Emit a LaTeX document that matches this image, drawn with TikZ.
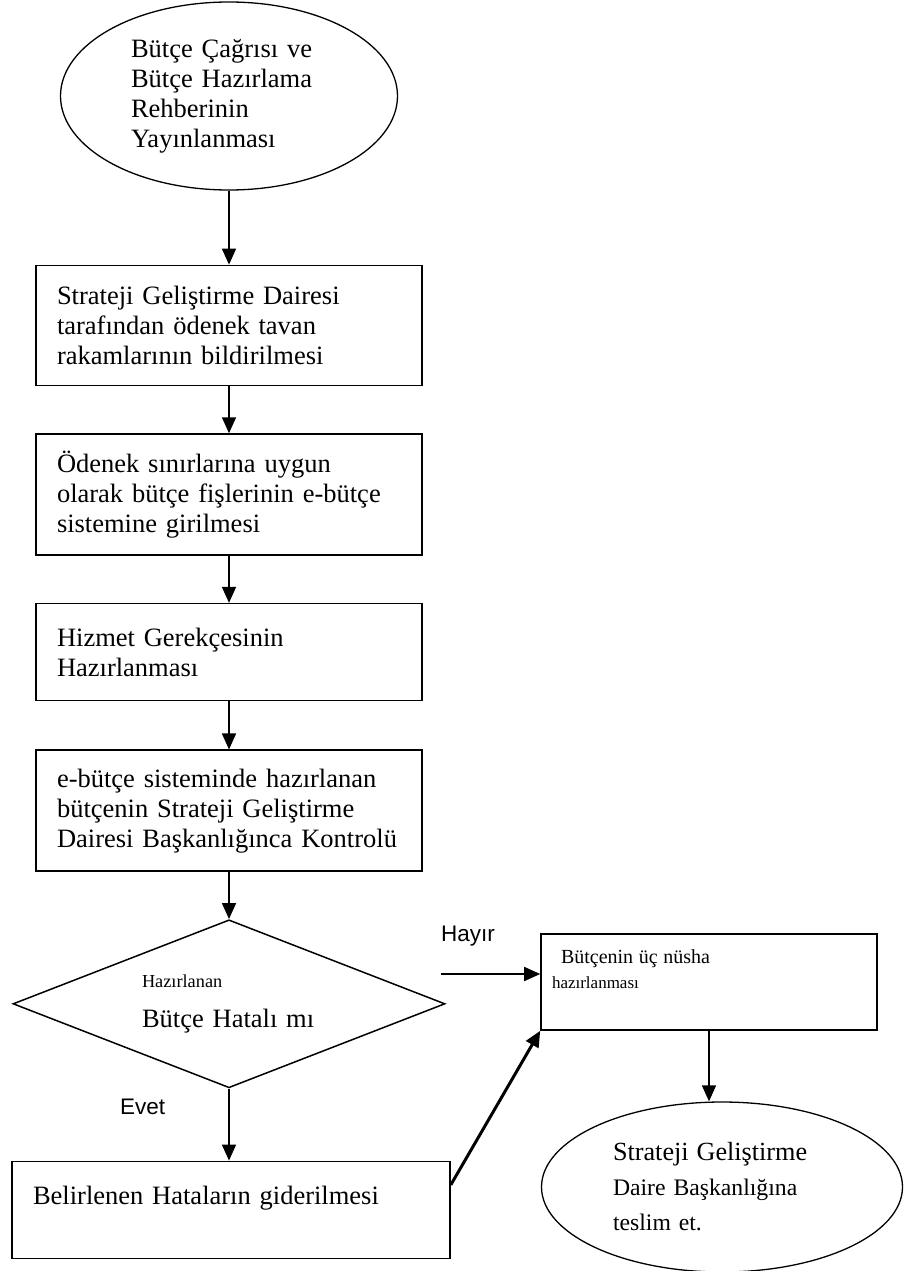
\documentclass[tikz,border=0pt]{standalone}
\usepackage{fontspec}
\setmainfont{Liberation Serif}
\newfontfamily\lblfont{Liberation Sans}
\usetikzlibrary{positioning,shapes.geometric,arrows.meta}

\begin{document}
\begin{tikzpicture}[
  x=1pt, y=-1pt,
  font=\fontsize{26.5}{30}\selectfont,
  box/.style={draw, line width=1.6pt, inner sep=0pt, align=left},
  wide/.style={box, minimum width=386pt, text width=344pt},
  oval/.style={draw, ellipse, line width=1.3pt, inner sep=0pt, align=left},
  ask/.style={draw, diamond, line width=1.5pt, inner sep=0pt, shape aspect=2.6,
    minimum width=432pt, minimum height=168pt, align=left, text width=174pt,
    font=\fontsize{26.5}{40}\selectfont},
  lbl/.style={font=\lblfont\fontsize{22.5}{26}\selectfont, anchor=west, inner sep=0pt},
  arr/.style={-{Triangle[length=16pt,width=14pt]}, line width=1.6pt}
]
\useasboundingbox (0,0) rectangle (919,1271);

% main column
\node[oval, minimum width=337pt, minimum height=188pt, text width=196pt] (start) at (229,96)
  {Bütçe Çağrısı ve\\Bütçe Hazırlama\\Rehberinin\\Yayınlanması};
\node[wide, minimum height=120pt, below=74pt of start] (tavan)
  {Strateji Geliştirme Dairesi\\tarafından ödenek tavan\\rakamlarının bildirilmesi};
\node[wide, minimum height=121pt, below=47pt of tavan] (fis)
  {Ödenek sınırlarına uygun\\olarak bütçe fişlerinin e-bütçe\\sistemine girilmesi};
\node[wide, minimum height=97pt, below=47pt of fis] (gerekce)
  {Hizmet Gerekçesinin\\Hazırlanması};
\node[wide, minimum height=121pt, below=48pt of gerekce] (kontrol)
  {e-bütçe sisteminde hazırlanan\\bütçenin Strateji Geliştirme\\Dairesi Başkanlığınca Kontrolü};
\node[ask, below=47pt of kontrol] (hata)
  {{\fontsize{18.3}{20}\selectfont Hazırlanan}\\Bütçe Hatalı mı};
\node[box, minimum width=438pt, minimum height=97pt, text width=396pt,
  below=72pt of hata, xshift=2pt] (duzelt)
  {Belirlenen Hataların giderilmesi\\ \mbox{}};

% right column
\node[box, minimum width=336pt, minimum height=96pt, text width=314pt,
  font=\fontsize{17}{25}\selectfont] (nusha) at (709,982)
  {\hspace*{9pt}{\fontsize{20}{25}\selectfont Bütçenin üç nüsha}\\hazırlanması\\ \mbox{}};
\node[oval, minimum width=361pt, minimum height=170pt, text width=218pt,
  font=\fontsize{23.7}{35}\selectfont] (teslim) at (722,1187)
  {{\fontsize{26.2}{35}\selectfont Strateji Geliştirme}\\Daire Başkanlığına\\teslim et.};

% labels
\node[lbl] (hayirlbl) at (441,936) {Hayır};
\node[lbl] (evetlbl) at (120,1107) {Evet};
\coordinate (hayir) at (441,974);

\draw[arr] (start) -- (tavan);
\draw[arr] (tavan) -- (fis);
\draw[arr] (fis) -- (gerekce);
\draw[arr] (gerekce) -- (kontrol);
\draw[arr] (kontrol) -- (hata);
\draw[arr] (hata.south) -- (hata.south |- duzelt.north);
\draw[arr] (hayir) -- (hayir -| nusha.west);
\draw[arr, line width=3pt] ([yshift=25pt]duzelt.east) -- (nusha.south west);
\draw[arr] (nusha.south) -- (nusha.south |- teslim.north);
\end{tikzpicture}
\end{document}
